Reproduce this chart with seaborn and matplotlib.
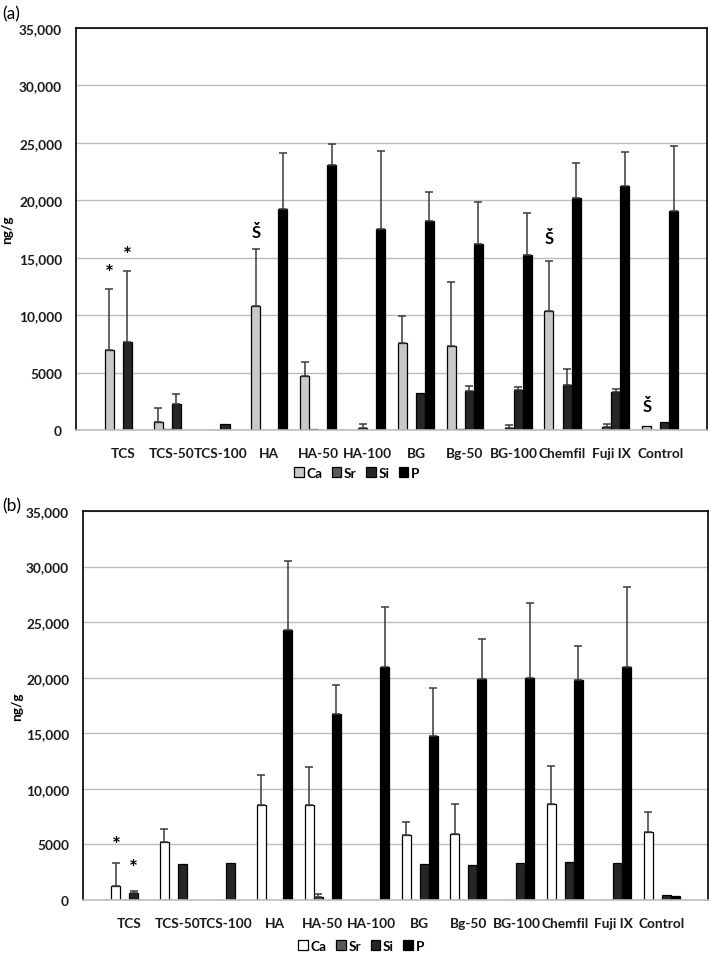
import matplotlib
matplotlib.use("Agg")
import matplotlib.pyplot as plt
import seaborn as sns
import pandas as pd
import numpy as np

# Materials on the x axis
materials = ["TCS", "TCS-50", "TCS-100", "HA", "HA-50", "HA-100",
             "BG", "Bg-50", "BG-100", "Chemfil", "Fuji IX", "Control"]
elements = ["Ca", "Sr", "Si", "P"]

# Panel (a) means and upper SD (ng/g)
ca_a = [7000, 700, 0, 10800, 4700, 0, 7600, 7350, 0, 10400, 0, 320]
ca_a_sd = [5300, 1200, 0, 5000, 1200, 0, 2350, 5550, 0, 4300, 0, 0]
sr_a = [0, 50, 30, 0, 80, 170, 0, 120, 180, 0, 230, 0]
sr_a_sd = [0, 0, 0, 0, 0, 350, 0, 0, 280, 0, 290, 0]
si_a = [7700, 2250, 550, 0, 0, 0, 3200, 3420, 3510, 3920, 3310, 670]
si_a_sd = [6100, 920, 0, 0, 0, 0, 0, 440, 200, 1360, 230, 0]
p_a = [0, 0, 0, 19200, 23050, 17500, 18200, 16200, 15200, 20200, 21250, 19050]
p_a_sd = [0, 0, 0, 4900, 1850, 6800, 2500, 3650, 3650, 3050, 2950, 5700]

# Panel (b)
ca_b = [1230, 5180, 0, 8540, 8510, 0, 5880, 5940, 0, 8640, 0, 6120]
ca_b_sd = [2060, 1170, 0, 2700, 3420, 0, 1160, 2660, 0, 3390, 0, 1820]
sr_b = [0, 0, 30, 0, 240, 30, 0, 0, 30, 0, 30, 0]
sr_b_sd = [0, 0, 0, 0, 330, 0, 0, 0, 0, 0, 0, 0]
si_b = [600, 3240, 3300, 0, 0, 0, 3270, 3180, 3330, 3420, 3330, 450]
si_b_sd = [180, 0, 0, 0, 0, 0, 0, 0, 0, 0, 0, 0]
p_b = [0, 0, 0, 24310, 16700, 20960, 14800, 19880, 19940, 19820, 20930, 330]
p_b_sd = [0, 0, 0, 6190, 2670, 5360, 4230, 3570, 6810, 3030, 7190, 0]

# significance marks: (material, element, y, symbol)
marks_a = [("TCS", "Ca", 13700, "*"), ("TCS", "Si", 15200, "*"),
           ("HA", "Ca", 17200, "Š"), ("Chemfil", "Ca", 16700, "Š"),
           ("Control", "Ca", 2100, "Š")]
marks_b = [("TCS", "Ca", 4950, "*"), ("TCS", "Si", 2850, "*")]

yticks = [0, 5000, 10000, 15000, 20000, 25000, 30000, 35000]
ytick_labels = ["0", "5000", "10,000", "15,000", "20,000", "25,000", "30,000", "35,000"]

FONT = "Lato"
plt.rcParams["font.family"] = [FONT, "DejaVu Sans"]
FS = 9.8


def to_long(means, sds):
    rows = []
    for el, vals, errs in zip(elements, means, sds):
        for m, v, e in zip(materials, vals, errs):
            rows.append({"material": m, "element": el, "value": v, "sd": e})
    return pd.DataFrame(rows)


def draw_panel(ax, df, palette, marks, leg_y, ylab_x):
    sns.barplot(data=df, x="material", y="value", hue="element",
                order=materials, hue_order=elements, palette=palette,
                width=0.74, edgecolor="black", linewidth=0.9,
                errorbar=None, ax=ax)
    # error bars (upper only) from the bar positions
    pos = {}
    for el, cont in zip(elements, ax.containers):
        sub = df[df["element"] == el].set_index("material").loc[materials]
        for m, bar, v, e in zip(materials, cont, sub["value"], sub["sd"]):
            x = bar.get_x() + bar.get_width() / 2
            pos[(m, el)] = x
            if v == 0:
                bar.set_visible(False)
            if e > 0:
                ax.errorbar(x, v, yerr=[[0], [e]], fmt="none", ecolor="#3a3a3a",
                            elinewidth=1.1, capsize=2.8, capthick=1.1, zorder=1)
    for m, el, y, s in marks:
        ax.text(pos[(m, el)], y, s, ha="center", va="center",
                fontsize=15 if s == "*" else 12, fontweight="bold")

    ax.set_ylim(0, 35000)
    ax.set_yticks(yticks)
    ax.set_yticklabels(ytick_labels)
    ax.yaxis.grid(True, color="#bdbdbd", linewidth=1.0)
    ax.set_axisbelow(True)
    ax.tick_params(axis="both", length=0, labelsize=FS)
    ax.tick_params(axis="y", pad=10)
    ax.tick_params(axis="x", pad=12)
    for lab in ax.get_xticklabels() + ax.get_yticklabels():
        lab.set_fontweight("bold")
        lab.set_color("#1a1a1a")
    ax.set_xlabel("")
    ax.set_ylabel("ng/g", fontsize=FS, fontweight="bold")
    ax.yaxis.set_label_coords(ylab_x, 0.5)
    for side in ["left", "top", "right"]:
        ax.spines[side].set_color("black")
        ax.spines[side].set_linewidth(1.2)
    ax.spines["bottom"].set_color("#bdbdbd")
    ax.spines["bottom"].set_linewidth(1.2)
    handles, labels = ax.get_legend_handles_labels()
    ax.legend(handles, labels, loc="upper center", bbox_to_anchor=(0.445, leg_y),
              ncol=4, frameon=False, handlelength=0.7, handleheight=0.7,
              handletextpad=0.2, columnspacing=0.7, borderaxespad=0,
              prop={"weight": "bold", "size": FS})


fig = plt.figure(figsize=(7.09, 9.62), dpi=100)
ax_a = fig.add_axes([76 / 709, 1 - 431 / 962, 631 / 709, 402 / 962])
ax_b = fig.add_axes([83 / 709, 1 - 901 / 962, 625 / 709, 389 / 962])

df_a = to_long([ca_a, sr_a, si_a, p_a], [ca_a_sd, sr_a_sd, si_a_sd, p_a_sd])
df_b = to_long([ca_b, sr_b, si_b, p_b], [ca_b_sd, sr_b_sd, si_b_sd, p_b_sd])

draw_panel(ax_a, df_a, ["#c8c8c8", "#595959", "#262626", "#000000"], marks_a, -0.078, -0.1)
draw_panel(ax_b, df_b, ["#ffffff", "#595959", "#262626", "#000000"], marks_b, -0.088, -0.095)

fig.text(2 / 709, 1 - 14 / 962, "(a)", fontsize=12.5, va="center", ha="left")
fig.text(2 / 709, 1 - 506 / 962, "(b)", fontsize=12.5, va="center", ha="left")

fig.savefig("out.png", dpi=100)
